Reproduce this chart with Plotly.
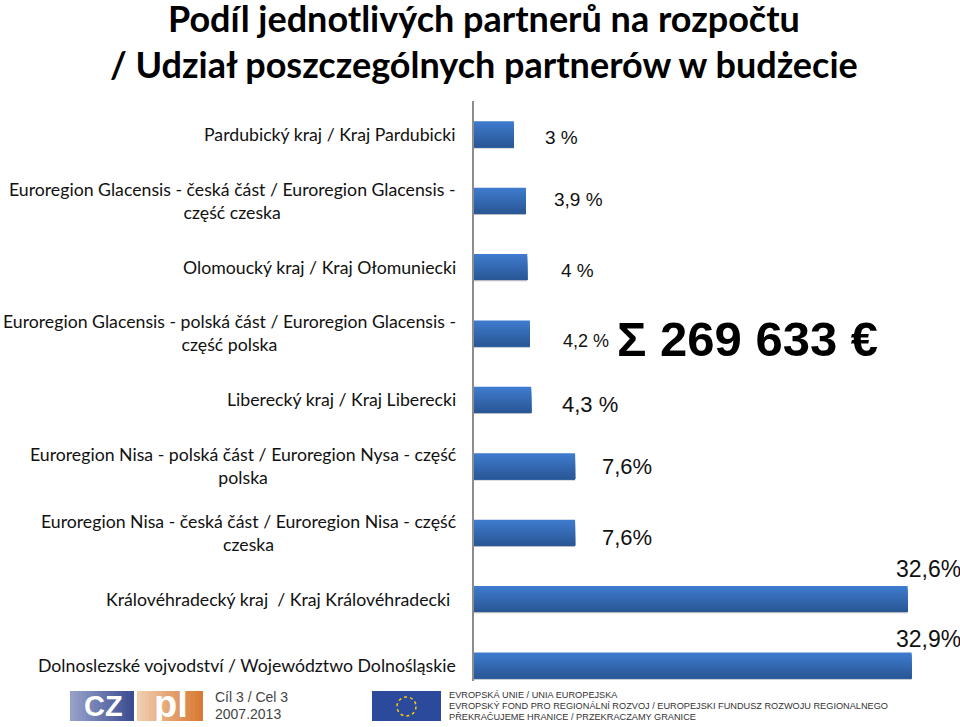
import plotly.graph_objects as go

categories = [
    "Pardubický kraj / Kraj Pardubicki",
    "Euroregion Glacensis - česká část / Euroregion Glacensis -<br>część czeska",
    "Olomoucký kraj / Kraj Ołomuniecki",
    "Euroregion Glacensis - polská část / Euroregion Glacensis -<br>część polska",
    "Liberecký kraj / Kraj Liberecki",
    "Euroregion Nisa - polská část / Euroregion Nysa - część<br>polska",
    "Euroregion Nisa - česká část / Euroregion Nisa - część<br>czeska",
    "Královéhradecký kraj  / Kraj Královéhradecki",
    "Dolnoslezské vojvodství / Województwo Dolnośląskie",
]
values = [3, 3.9, 4, 4.2, 4.3, 7.6, 7.6, 32.6, 32.9]
value_labels = ["3 %", "3,9 %", "4 %", "4,2 %", "4,3 %", "7,6%", "7,6%", "32,6%", "32,9%"]
title_lines = ["Podíl jednotlivých partnerů na rozpočtu", "/ Udział poszczególnych partnerów w budżecie"]
total_label = "Σ 269 633 €"

W, H = 960, 727
L, T, B = 474, 101, 681
PX_PER_PCT = 13.3
BAND = 66.4
BAR = 0.39

label_px = [(561, 137), (578, 200), (577, 270), (586, 341), (590, 404), (627, 466), (627, 537), (928, 569), (928, 639)]
label_sizes = [19, 19, 19, 18, 22, 22, 22, 23, 23]
cat_right = [458, 458, 458, 458, 458, 458, 458, 452, 458]

def px(x): return (x - L) / (W - L)
def py(y): return (B - y) / (B - T)

fig = go.Figure()

# soft shadow
fig.add_trace(go.Bar(y=list(range(9)), x=values, orientation="h", width=BAR, offset=-BAR/2 + 0.02,
                     marker=dict(color="#b9b9c4", line_width=0), hoverinfo="skip"))
# vertical gradient built from overlapping slices of the same bars
n = 12
c0, c1 = (62, 122, 205), (42, 88, 150)
for i in range(n):
    t = i / (n - 1)
    col = "rgb(%d,%d,%d)" % tuple(round(a + (b - a) * t) for a, b in zip(c0, c1))
    fig.add_trace(go.Bar(y=list(range(9)), x=values, orientation="h",
                         width=BAR * (n - i) / n, offset=-BAR / 2 + i * BAR / n,
                         marker=dict(color=col, line_width=0), hoverinfo="skip"))

ann = []
for i, c in enumerate(categories):
    ann.append(dict(x=px(cat_right[i]), y=i, xref="paper", yref="y", xanchor="right", yanchor="middle",
                    text=c, showarrow=False, align="center",
                    font=dict(family="Lato", size=17.7, color="#111")))
for (lx, ly), s, t in zip(label_px, label_sizes, value_labels):
    ann.append(dict(x=px(lx), y=py(ly), xref="paper", yref="paper", xanchor="center", yanchor="middle",
                    text=t, showarrow=False, font=dict(family="Liberation Sans", size=s, color="#111")))
ann.append(dict(x=px(747), y=py(339), xref="paper", yref="paper", xanchor="center", yanchor="middle",
                text="<b>%s</b>" % total_label, showarrow=False,
                font=dict(family="Liberation Sans", size=49, color="#000")))
for t, y in zip(title_lines, (18, 64)):
    ann.append(dict(x=px(484), y=py(y), xref="paper", yref="paper", xanchor="center", yanchor="middle",
                    text="<b>%s</b>" % t, showarrow=False,
                    font=dict(family="Lato", size=36, color="#000")))

# footer
foot = [("EVROPSKÁ UNIE / UNIA EUROPEJSKA", 695),
        ("EVROPSKÝ FOND PRO REGIONÁLNÍ ROZVOJ / EUROPEJSKI FUNDUSZ ROZWOJU REGIONALNEGO", 706),
        ("PŘEKRAČUJEME HRANICE / PRZEKRACZAMY GRANICE", 717)]
for t, y in foot:
    ann.append(dict(x=px(447), y=py(y), xref="paper", yref="paper", xanchor="left", yanchor="middle",
                    text=t, showarrow=False, font=dict(family="Liberation Sans", size=9.2, color="#333")))
ann.append(dict(x=px(213), y=py(697), xref="paper", yref="paper", xanchor="left", yanchor="middle",
                text="Cíl 3 / Cel 3", showarrow=False, font=dict(family="Liberation Sans", size=14, color="#444")))
ann.append(dict(x=px(213), y=py(714), xref="paper", yref="paper", xanchor="left", yanchor="middle",
                text="2007.2013", showarrow=False, font=dict(family="Liberation Sans", size=14, color="#444")))
ann.append(dict(x=px(103), y=py(706), xref="paper", yref="paper", xanchor="center", yanchor="middle",
                text="<b>CZ</b>", showarrow=False, font=dict(family="Liberation Sans", size=29, color="#fff")))
ann.append(dict(x=px(171), y=py(704), xref="paper", yref="paper", xanchor="center", yanchor="middle",
                text="<b>pl</b>", showarrow=False, font=dict(family="Liberation Sans", size=38, color="#fff")))

def rect(x0, y0, x1, y1, col):
    return dict(type="rect", xref="paper", yref="paper", x0=px(x0), x1=px(x1), y0=py(y0), y1=py(y1),
                fillcolor=col, line_width=0, layer="below")

def grad(x0, x1, y0, y1, a, b, k=16):
    out = []
    for i in range(k):
        t = i / (k - 1)
        col = "rgb(%d,%d,%d)" % tuple(round(u + (v - u) * t) for u, v in zip(a, b))
        out.append(rect(x0 + (x1 - x0) * i / k, y0, x1, y1, col))
    return out

shapes = grad(70, 134, 691, 721, (150, 160, 200), (60, 78, 145)) + \
         grad(137, 203, 691, 721, (240, 205, 175), (216, 122, 53)) + \
         [rect(372, 691, 441, 721, "#2b4a9b"),
          dict(type="circle", xref="paper", yref="paper", x0=px(397), x1=px(416), y0=py(716), y1=py(697),
               line=dict(color="#ffcc00", width=1.5, dash="dot"), layer="above")]

fig.update_layout(
    width=W, height=H, autosize=False, plot_bgcolor="white", paper_bgcolor="white",
    margin=dict(l=L, r=0, t=T, b=H - B), barmode="overlay", showlegend=False,
    xaxis=dict(range=[0, (W - L) / PX_PER_PCT], visible=False),
    yaxis=dict(range=[(B - T) / BAND - 0.5, -0.5], showticklabels=False, ticks="", showgrid=False,
               zeroline=False, showline=True, linecolor="#8c8c8c", linewidth=2),
    annotations=ann, shapes=shapes,
)
fig.write_html("out.html", config=dict(displayModeBar=False),
               post_script="document.body.style.margin='0';document.body.style.overflow='hidden';")
